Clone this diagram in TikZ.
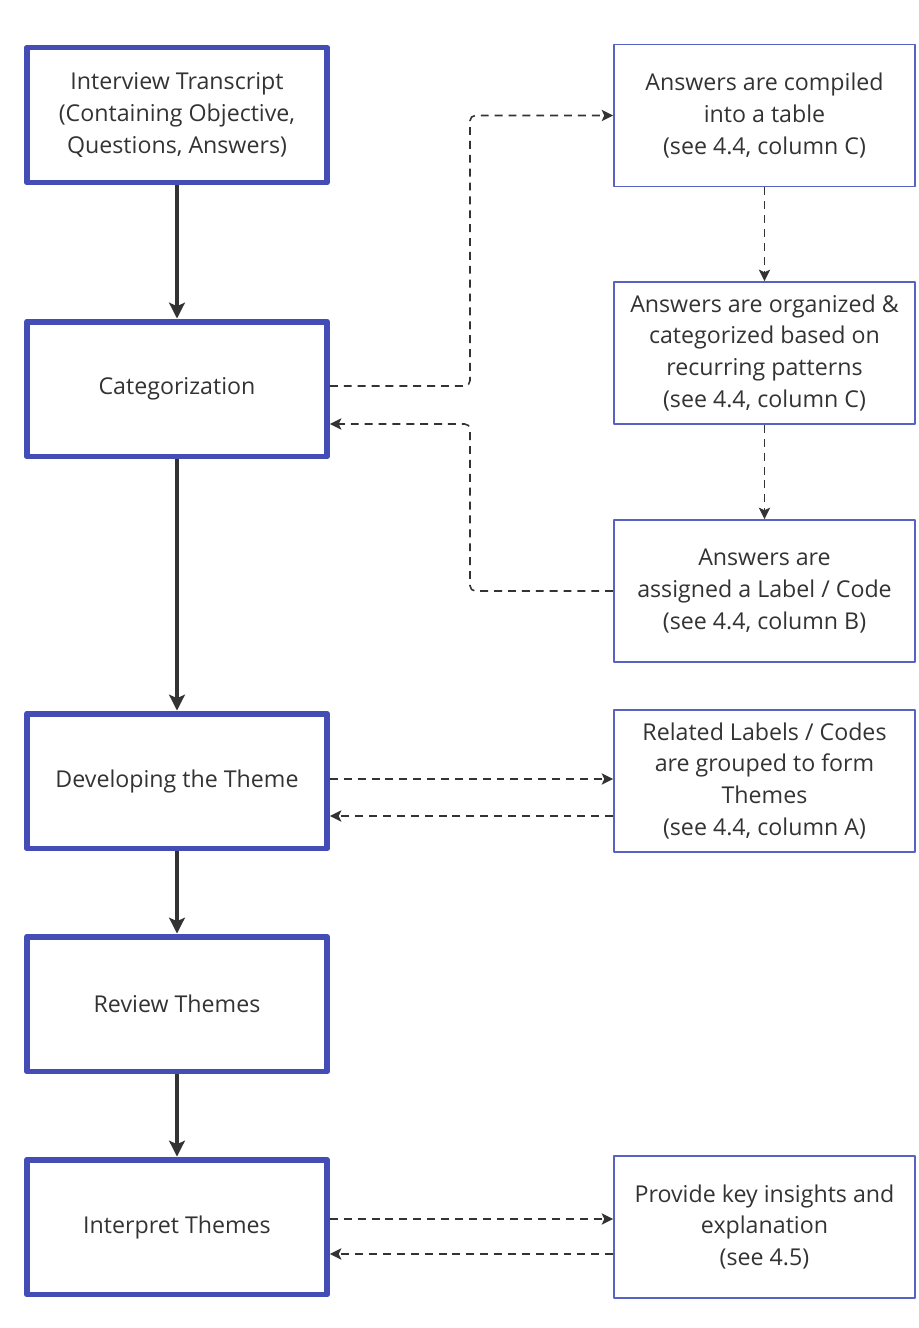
\documentclass[tikz,border=0pt]{standalone}
\usepackage{fontspec}
\setmainfont{Open Sans}
\usetikzlibrary{arrows.meta}
\definecolor{stepblue}{HTML}{434DB5}
\definecolor{noteblue}{HTML}{5862C4}
\definecolor{inkgray}{HTML}{333333}
\begin{document}
\begin{tikzpicture}[x=0.02cm, y=-0.02cm, line join=round, font=\fontsize{13.2}{18.2}\selectfont, text=inkgray]
	\tikzset{stepbox/.style={draw=stepblue, line width=3.4pt, minimum width=6cm, minimum height=2.7cm, align=center, inner sep=2pt},
		notebox/.style={draw=noteblue, line width=1.1pt, minimum width=6.02cm, minimum height=2.84cm, align=center, inner sep=2pt},
		flow/.style={draw=inkgray, line width=2.2pt, -{Stealth[length=9pt, width=9pt, inset=2pt]}},
		dashline/.style={draw=inkgray, line width=0.9pt, dash pattern=on 4.5pt off 3.4pt, -{Stealth[length=6.5pt, width=6.5pt, inset=1.5pt]}}}
	\useasboundingbox (0,0) rectangle (919,1328);
	\node[stepbox] (trans) at (177,115) {Interview Transcript\\(Containing Objective,\\Questions, Answers)};
	\node[stepbox] (cat) at (177,389) {Categorization};
	\node[stepbox] (dev) at (177,781) {Developing the Theme};
	\node[stepbox] (rev) at (177,1004) {Review Themes};
	\node[stepbox] (intp) at (177,1227) {Interpret Themes};
	\node[notebox] (comp) at (764.5,115.5) {Answers are compiled\\into a table\\(see 4.4, column C)};
	\node[notebox] (org) at (764.5,353) {Answers are organized \&\\categorized based on\\recurring patterns\\(see 4.4, column C)};
	\node[notebox] (code) at (764.5,591) {Answers are\\assigned a Label / Code\\(see 4.4, column B)};
	\node[notebox] (group) at (764.5,781) {Related Labels / Codes\\are grouped to form\\Themes\\(see 4.4, column A)};
	\node[notebox] (ins) at (764.5,1227) {Provide key insights and\\explanation\\(see 4.5)};
	\coordinate (midx) at (470,0);
	\draw[flow] (trans) -- (cat);
	\draw[flow] (cat) -- (dev);
	\draw[flow] (dev) -- (rev);
	\draw[flow] (rev) -- (intp);
	\draw[dashline, rounded corners=3pt] ([yshift=0.06cm]cat.east) -- ([yshift=0.06cm]cat.east -| midx) |- (comp.west);
	\draw[dashline] (comp) -- (org);
	\draw[dashline] (org) -- (code);
	\draw[dashline, rounded corners=3pt] (code.west) -- (code.west -| midx) |- ([yshift=-0.7cm]cat.east);
	\draw[dashline] ([yshift=0.04cm]dev.east) -- ([yshift=0.04cm]dev.east -| group.west);
	\draw[dashline] ([yshift=-0.7cm]group.west) -- ([yshift=-0.7cm]group.west -| dev.east);
	\draw[dashline] ([yshift=0.16cm]intp.east) -- ([yshift=0.16cm]intp.east -| ins.west);
	\draw[dashline] ([yshift=-0.54cm]ins.west) -- ([yshift=-0.54cm]ins.west -| intp.east);
\end{tikzpicture}
\end{document}
